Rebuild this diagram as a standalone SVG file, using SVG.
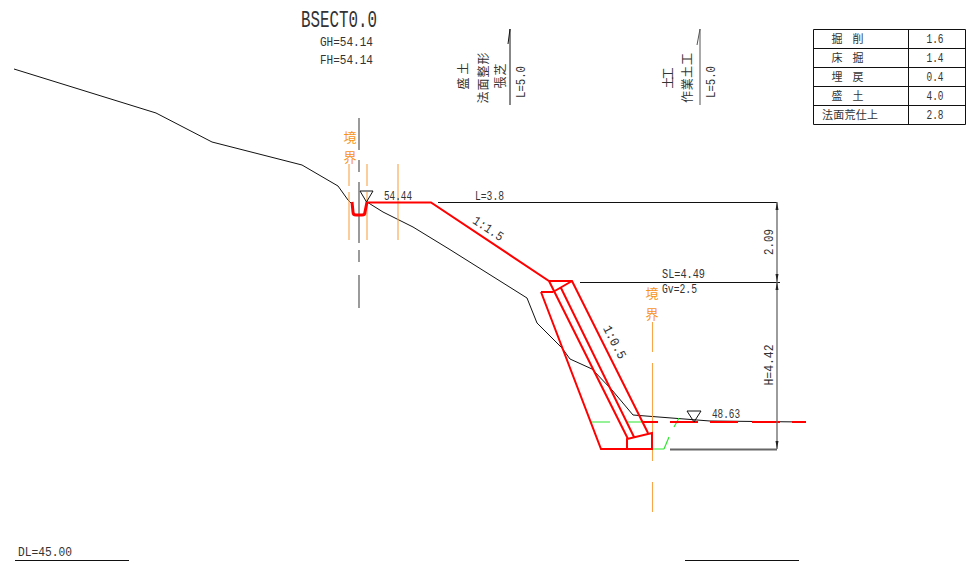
<svg xmlns="http://www.w3.org/2000/svg" width="966" height="563" viewBox="0 0 966 563">
<style>
text{font-family:"Liberation Mono","Noto Sans CJK JP",monospace;fill:#333;font-size:13px}
.j{font-family:"Noto Sans CJK JP","Liberation Sans",sans-serif;font-size:12px;fill:#333;text-anchor:middle}
.t{font-size:11px}
.o{fill:#f7941d;font-size:13px}
.m{text-anchor:middle}
.k{fill:none;stroke:#111;stroke-width:1}
.g{fill:none;stroke:#666;stroke-width:1.3}
.r{fill:none;stroke:#f00;stroke-width:2}
.og{fill:none;stroke:#f9a54a;stroke-width:1.1}
.gr{fill:none;stroke:#2ee62e;stroke-width:1.2}
</style>
<rect width="966" height="563" fill="#fff"/>
<g id="titles">
<text x="301" y="27" style="font-size:23px" textLength="76" lengthAdjust="spacingAndGlyphs">BSECT0.0</text>
<text x="320" y="46" textLength="53" lengthAdjust="spacingAndGlyphs">GH=54.14</text>
<text x="320" y="64" textLength="53" lengthAdjust="spacingAndGlyphs">FH=54.14</text>
<text x="18" y="556" textLength="54" lengthAdjust="spacingAndGlyphs">DL=45.00</text>
<path class="k" d="M15 560.500H129M685 560.500H799"/>
</g>
<g id="ground">
<path class="k" d="M14 69L156 113L212 142L302 165L338 186L348 200L352 204"/>
<path class="k" d="M367 202L383 212L413 227L449 249L527 298L537 323L562 348L570 359L592 369L612 390L633 415L710 421L805 422"/>
</g>
<g id="boundary-left">
<path class="g" d="M359 118V150M359 160V172M359 182V243M359 250V262M359 275V308"/>
<path class="og" d="M349 164V186M349 192V240M367 164V186M367 192V240M398 164V240"/>
<text class="j o" x="350" y="142">境</text>
<text class="j o" x="350" y="162">界</text>
</g>
<g id="boundary-right">
<path class="og" d="M652.500 322V352M652.500 363V461M652.500 482V512"/>
<text class="j o" x="652" y="298">境</text>
<text class="j o" x="652" y="319">界</text>
</g>
<g id="formation">
<path class="gr" d="M590 422H610M627 422H643M679 418L674 427M669 437L664 449M652 449H664"/>
<path class="r" d="M643 422H658M670 422H698M710 422H738M752 422H780M792 422H806"/>
<path class="r" style="stroke-width:3" d="M352 202L353 212Q353 215 356 215H362Q365 215 365 212L367 202"/>
<path class="r" d="M367 202.500H431L549 281H572L648 433M549 281L628 439M561 288L634 437M553 292L572 281M541 292H553M541 292L601 449H652V433L627 439V449"/>
</g>
<g id="dimensions">
<path class="k" d="M438 202.500H777M580 282.500H780"/>
<path class="k" style="stroke:#666;stroke-width:2" d="M670 449.500H777"/>
<path class="g" d="M777 202V449"/>
<path fill="#222" d="M777 202L775.500 210H778.500ZM777 282L775.500 274H778.500ZM777 282L775.500 290H778.500ZM777 449L775.500 441H778.500Z"/>
<text x="384" y="200" textLength="28" lengthAdjust="spacingAndGlyphs">54.44</text>
<text x="475" y="200" textLength="29" lengthAdjust="spacingAndGlyphs">L=3.8</text>
<text x="662" y="278" textLength="43" lengthAdjust="spacingAndGlyphs">SL=4.49</text>
<text x="662" y="293" textLength="35" lengthAdjust="spacingAndGlyphs">Gv=2.5</text>
<text x="712" y="418" textLength="28" lengthAdjust="spacingAndGlyphs">48.63</text>
<text transform="translate(486 232) rotate(33.500)" class="m" textLength="34" lengthAdjust="spacingAndGlyphs" x="0" y="0">1:1.5</text>
<text transform="translate(611 344) rotate(63)" class="m" textLength="36" lengthAdjust="spacingAndGlyphs" x="0" y="0">1:0.5</text>
<text transform="translate(773 242) rotate(-90)" class="m" textLength="26" lengthAdjust="spacingAndGlyphs" x="0" y="0">2.09</text>
<text transform="translate(773 365) rotate(-90)" class="m" textLength="41" lengthAdjust="spacingAndGlyphs" x="0" y="0">H=4.42</text>
<path class="k" d="M360 191H373L366.500 202ZM687 411H701L694 422Z"/>
</g>
<g id="label-left">
<path class="k" d="M510 29V105M510 29L508 44"/>
<text class="j" transform="translate(468 76) rotate(-90)" textLength="27" lengthAdjust="spacing">盛土</text>
<text class="j" transform="translate(488 78) rotate(-90)" textLength="51" lengthAdjust="spacing">法面整形</text>
<text class="j" transform="translate(505 76) rotate(-90)" textLength="25" lengthAdjust="spacing">張芝</text>
<text transform="translate(525 82) rotate(-90)" class="m" textLength="32" lengthAdjust="spacingAndGlyphs">L=5.0</text>
</g>
<g id="label-right">
<path class="k" style="stroke:#555" d="M700 29V105M700 29L697 45"/>
<text class="j" transform="translate(673 78) rotate(-90)" textLength="21" lengthAdjust="spacing">土工</text>
<text class="j" transform="translate(692 78) rotate(-90)" textLength="50" lengthAdjust="spacing">作業土工</text>
<text transform="translate(715 82) rotate(-90)" class="m" textLength="32" lengthAdjust="spacingAndGlyphs">L=5.0</text>
</g>
<g id="table">
<path class="k" d="M813.500 29.500H965.500V124.500H813.500ZM813.500 48.500H965.500M813.500 67.500H965.500M813.500 86.500H965.500M813.500 105.500H965.500M908.500 29.500V124.500"/>
<text class="j t" x="837" y="43">掘</text><text class="j t" x="858" y="43">削</text>
<text class="j t" x="837" y="62">床</text><text class="j t" x="858" y="62">掘</text>
<text class="j t" x="837" y="81">埋</text><text class="j t" x="858" y="81">戻</text>
<text class="j t" x="837" y="100">盛</text><text class="j t" x="858" y="100">土</text>
<text class="j t" x="850" y="119" textLength="56" lengthAdjust="spacing">法面荒仕上</text>
<text class="m" x="935" y="43" textLength="17" lengthAdjust="spacingAndGlyphs">1.6</text>
<text class="m" x="935" y="62" textLength="17" lengthAdjust="spacingAndGlyphs">1.4</text>
<text class="m" x="935" y="81" textLength="17" lengthAdjust="spacingAndGlyphs">0.4</text>
<text class="m" x="935" y="100" textLength="17" lengthAdjust="spacingAndGlyphs">4.0</text>
<text class="m" x="935" y="119" textLength="17" lengthAdjust="spacingAndGlyphs">2.8</text>
</g>
</svg>
